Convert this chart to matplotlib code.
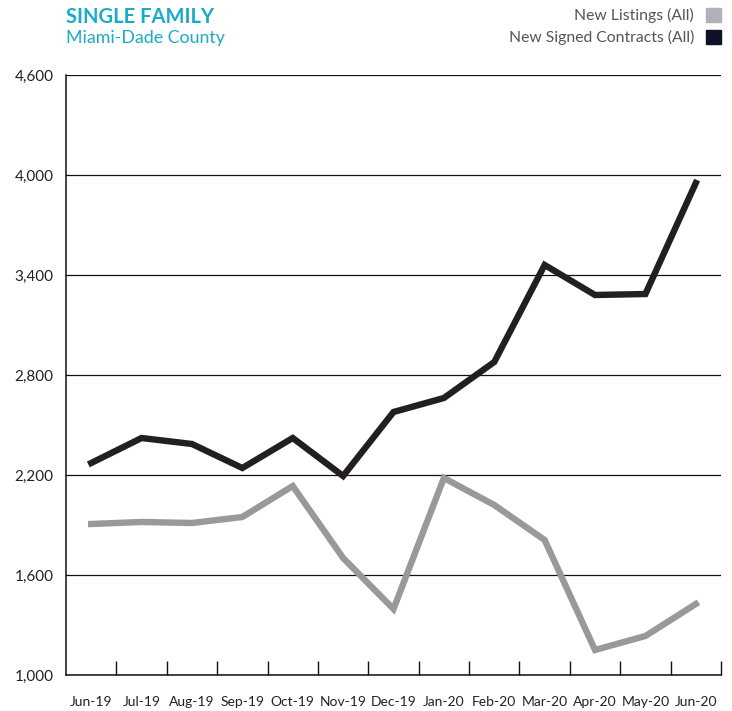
#!/usr/bin/env python3
"""Single family listings vs signed contracts, Miami-Dade"""

import matplotlib.pyplot as plt
import matplotlib.patches as mpatches
from matplotlib.ticker import FixedLocator

months = ['Jun-19', 'Jul-19', 'Aug-19', 'Sep-19', 'Oct-19', 'Nov-19', 'Dec-19',
          'Jan-20', 'Feb-20', 'Mar-20', 'Apr-20', 'May-20', 'Jun-20']
new_listings = [1906, 1918, 1912, 1948, 2134, 1702, 1396,
                2182, 2020, 1810, 1150, 1234, 1426]
signed_contracts = [2272, 2422, 2386, 2242, 2422, 2194, 2578,
                    2662, 2878, 3460, 3280, 3286, 3952]
y_ticks = [1000, 1600, 2200, 2800, 3400, 4000, 4600]

TEAL = '#1aabc9'
DARK = '#231f20'
GRAY = '#999999'

plt.rcParams['font.family'] = ['Lato', 'DejaVu Sans']

fig = plt.figure(figsize=(7.32, 7.11), dpi=100)
ax = fig.add_axes([66 / 732, 1 - 675 / 711, 655 / 732, 600 / 711])

x = list(range(len(months)))
ax.plot(x, new_listings, color=GRAY, lw=4.6, solid_joinstyle='miter', zorder=3)
ax.plot(x, signed_contracts, color=DARK, lw=4.6, solid_joinstyle='miter', zorder=4)

ax.set_xlim(-0.5, len(months) - 0.5)
ax.set_ylim(1000, 4600)
ax.set_yticks(y_ticks)
ax.set_yticklabels([f'{v:,}' for v in y_ticks])
ax.set_xticks(x)
ax.set_xticklabels(months)
ax.xaxis.set_minor_locator(FixedLocator([i + 0.5 for i in x]))

ax.tick_params(axis='x', which='major', length=0, pad=15, labelsize=10, labelcolor='#222222')
ax.tick_params(axis='x', which='minor', direction='in', length=10, width=1, color='#111111')
ax.tick_params(axis='y', length=0, pad=9, labelsize=11, labelcolor='#222222')

ax.grid(axis='y', color='#111111', lw=0.9)
ax.set_axisbelow(True)
for side in ['top', 'right']:
    ax.spines[side].set_visible(False)
for side in ['left', 'bottom']:
    ax.spines[side].set_color('#111111')
    ax.spines[side].set_linewidth(1.1)

# title block
fig.text(66 / 732, 1 - 17 / 711, 'SINGLE FAMILY', color=TEAL, fontsize=14.5,
         fontweight='bold', va='center', ha='left')
fig.text(66 / 732, 1 - 38 / 711, 'Miami-Dade County', color=TEAL, fontsize=12.8,
         va='center', ha='left')

# legend
legend_items = [('New Listings (All)', '#b1b1b9'), ('New Signed Contracts (All)', '#0f1226')]
for i, (label, col) in enumerate(legend_items):
    yc = 15 + i * 22
    fig.text(694 / 732, 1 - yc / 711, label, color='#555555', fontsize=11.3,
             va='center', ha='right')
    fig.patches.append(mpatches.Rectangle((706 / 732, 1 - (yc + 7) / 711), 15 / 732, 14 / 711,
                                          transform=fig.transFigure, color=col))

plt.savefig('out.png', dpi=100)
plt.close()
